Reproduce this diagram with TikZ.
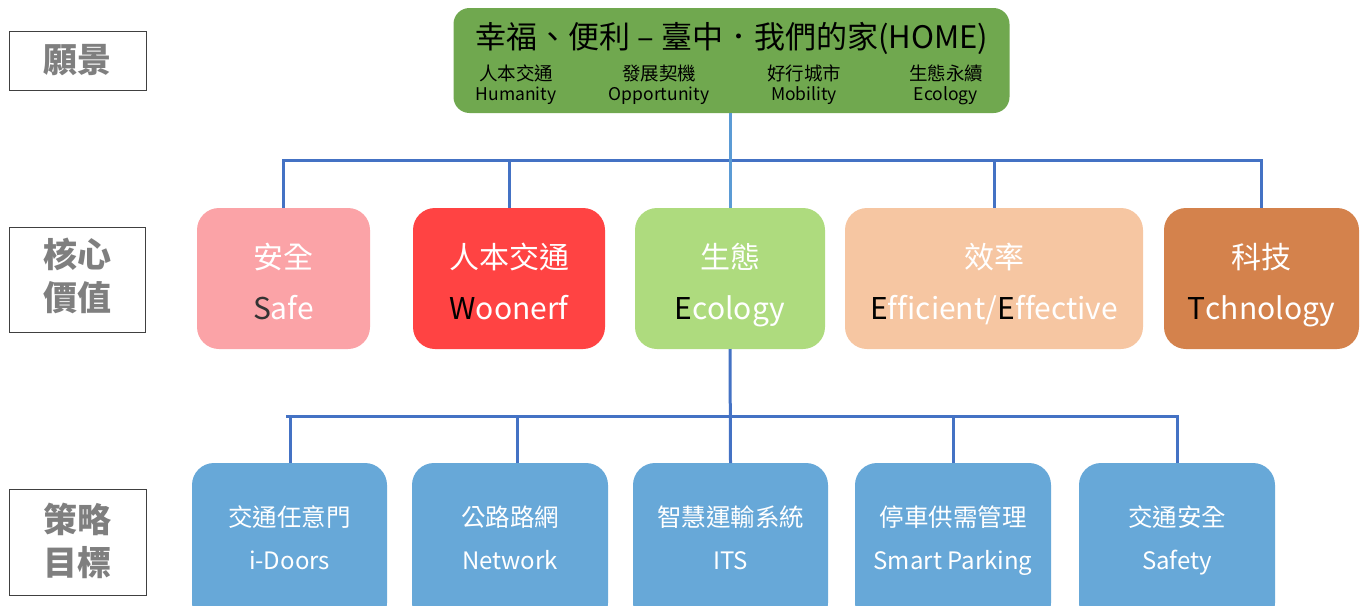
\documentclass[tikz,border=0pt]{standalone}
\usepackage{fontspec}
\setmainfont{Noto Sans CJK TC}[Ligatures=NoCommon]
\definecolor{topgreen}{HTML}{70A84F}
\definecolor{safepink}{HTML}{FBA3A7}
\definecolor{woonred}{HTML}{FF4343}
\definecolor{ecogreen}{HTML}{AEDB7E}
\definecolor{effpeach}{HTML}{F6C6A2}
\definecolor{techbrown}{HTML}{D4824C}
\definecolor{goalblue}{HTML}{67A8D8}
\definecolor{lineblue}{HTML}{4472C4}
\definecolor{lineblue2}{HTML}{5B9BD5}
\definecolor{lblgray}{HTML}{7F7F7F}
\newcommand{\fsz}[1]{\fontsize{#1}{#1}\selectfont}
\begin{document}
\begin{tikzpicture}[x=1pt,y=-1pt,
  lbl/.style={draw=black!75, line width=0.9pt, fill=white, inner sep=0pt, outer sep=0pt},
  lbltext/.style={text=lblgray, font=\bfseries\fsz{34}, anchor=center, inner sep=0pt},
  card/.style={rounded corners=22pt, draw=none, inner sep=0pt, outer sep=0pt},
  conn/.style={draw=lineblue, line width=3pt},
  conn2/.style={draw=lineblue2, line width=3pt},
  wt/.style={text=white, anchor=base, inner sep=0pt},
  bt/.style={text=black, anchor=base, inner sep=0pt}
]
\useasboundingbox (0,0) rectangle (1364,605);
\clip (0,0) rectangle (1364,605);

% left labels
\node[lbl, minimum width=137pt, minimum height=59pt] (lv) at (77.5,60.5) {};
\node[lbltext] (lvt) at (lv.center) {願景};
\node[lbl, minimum width=136pt, minimum height=105pt] (lc) at (77,279.5) {};
\node[lbltext] (lct1) at (77,254) {核心};
\node[lbltext] (lct2) at (77,298) {價值};
\node[lbl, minimum width=137pt, minimum height=106pt] (ls) at (77.5,542) {};
\node[lbltext] (lst1) at (77,519) {策略};
\node[lbltext] (lst2) at (77,563) {目標};

% top box
\node[card, rounded corners=16pt, fill=topgreen, minimum width=556pt, minimum height=105pt] (top) at (731.5,60.5) {};
\node[bt, font=\fsz{31}] (title) at (732,48) {幸福、便利 – 臺中．我們的家(HOME)};
\node[bt, font=\fsz{18.5}] (v1c) at (516,80) {人本交通};
\node[bt, font=\fsz{17.5}] (v1e) at (516,100.5) {Humanity};
\node[bt, font=\fsz{18.5}] (v2c) at (659,80) {發展契機};
\node[bt, font=\fsz{17.5}] (v2e) at (659,100.5) {Opportunity};
\node[bt, font=\fsz{18.5}] (v3c) at (804,80) {好行城市};
\node[bt, font=\fsz{17.5}] (v3e) at (804,100.5) {Mobility};
\node[bt, font=\fsz{18.5}] (v4c) at (946,80) {生態永續};
\node[bt, font=\fsz{17.5}] (v4e) at (946,100.5) {Ecology};

% core values
\node[card, fill=safepink, minimum width=173pt, minimum height=141pt] (safe) at (283.5,278.5) {};
\node[card, fill=woonred, minimum width=192pt, minimum height=141pt] (woon) at (509,278.5) {};
\node[card, fill=ecogreen, minimum width=190pt, minimum height=141pt] (eco) at (730,278.5) {};
\node[card, fill=effpeach, minimum width=298pt, minimum height=141pt] (eff) at (994,278.5) {};
\node[card, fill=techbrown, minimum width=195pt, minimum height=141pt] (tech) at (1261.5,278.5) {};

\node[wt, font=\fsz{30}] (safec) at (safe.center |- 0,268.5) {安全};
\node[wt, font=\fsz{30}] (safee) at (safe.center |- 0,319) {\textcolor{black!80}{S}afe};
\node[wt, font=\fsz{30}] (woonc) at (woon.center |- 0,268.5) {人本交通};
\node[wt, font=\fsz{30}] (woone) at (woon.center |- 0,319) {\textcolor{black}{W}oonerf};
\node[wt, font=\fsz{30}] (ecoc) at (eco.center |- 0,268.5) {生態};
\node[wt, font=\fsz{30}] (ecoe) at (eco.center |- 0,319) {\textcolor{black}{E}cology};
\node[wt, font=\fsz{30}] (effc) at (eff.center |- 0,268.5) {效率};
\node[wt, font=\fsz{30}] (effe) at (eff.center |- 0,319) {\textcolor{black}{E}fficient/\textcolor{black}{E}ffective};
\node[wt, font=\fsz{30}] (techc) at (tech.center |- 0,268.5) {科技};
\node[wt, font=\fsz{30}] (teche) at (tech.center |- 0,319) {\textcolor{black}{T}chnology};

% strategic goals
\node[card, fill=goalblue, minimum width=195pt, minimum height=162pt] (door) at (289.5,544) {};
\node[card, fill=goalblue, minimum width=196pt, minimum height=162pt] (net) at (510,544) {};
\node[card, fill=goalblue, minimum width=195pt, minimum height=162pt] (its) at (730.5,544) {};
\node[card, fill=goalblue, minimum width=196pt, minimum height=162pt] (park) at (953,544) {};
\node[card, fill=goalblue, minimum width=196pt, minimum height=162pt] (sfty) at (1177,544) {};

\node[wt, font=\fsz{24.5}] (doorc) at (door.center |- 0,526.5) {交通任意門};
\node[wt, font=\fsz{24}] (doore) at (door.center |- 0,569) {i-Doors};
\node[wt, font=\fsz{24.5}] (netc) at (net.center |- 0,526.5) {公路路網};
\node[wt, font=\fsz{24}] (nete) at (net.center |- 0,569) {Network};
\node[wt, font=\fsz{24.5}] (itsc) at (its.center |- 0,526.5) {智慧運輸系統};
\node[wt, font=\fsz{24}] (itse) at (its.center |- 0,569) {ITS};
\node[wt, font=\fsz{24.5}] (parkc) at (park.center |- 0,526.5) {停車供需管理};
\node[wt, font=\fsz{24}] (parke) at (park.center |- 0,569) {Smart Parking};
\node[wt, font=\fsz{24.5}] (sftyc) at (sfty.center |- 0,526.5) {交通安全};
\node[wt, font=\fsz{24}] (sftye) at (sfty.center |- 0,569) {Safety};

% connectors, upper tier
\coordinate (j1) at (730,160);
\draw[conn] (safe.north) |- (j1) -| (tech.north);
\draw[conn] (woon.north) -- (woon.north |- j1);
\draw[conn] (eff.north) -- (eff.north |- j1);
\draw[conn2] (top.south -| eco.north) -- (eco.north);

% connectors, lower tier
\coordinate (j2) at (730,416);
\coordinate (doorTop) at ([xshift=0.5pt]door.north);
\coordinate (netTop) at ([xshift=7pt]net.north);
\draw[conn] (eco.south) -- (its.north);
\draw[conn] (doorTop) |- (j2) -| (sfty.north);
\draw[conn] ([xshift=-4pt]doorTop |- j2) -- (doorTop |- j2);
\draw[conn] (netTop) -- (netTop |- j2);
\draw[conn] (park.north) -- (park.north |- j2);
\end{tikzpicture}
\end{document}
